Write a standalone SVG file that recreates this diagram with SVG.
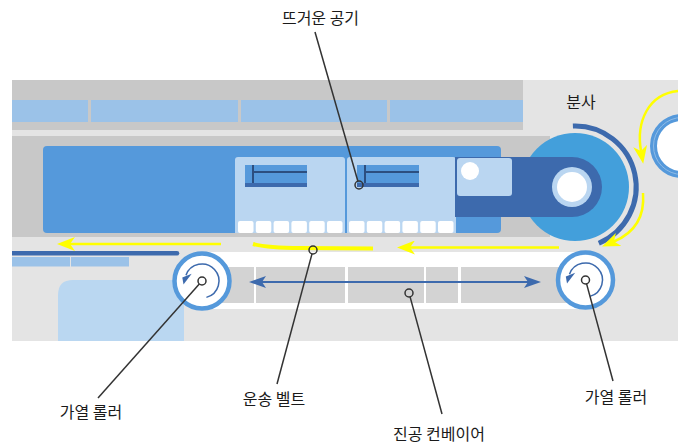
<svg xmlns="http://www.w3.org/2000/svg" width="685" height="446" viewBox="0 0 685 446">
  <style>
    .lbl { font-family: "Noto Sans CJK KR", "Noto Sans", sans-serif; font-size: 16px; fill: #1a1a1a; text-anchor: middle; }
    .flow { fill: none; stroke: #ffff00; stroke-width: 2.5; }
    .ptr { fill: none; stroke: #333333; stroke-width: 1.5; }
    .tile { fill: #ffffff; }
    .panel { fill: #bad6f1; }
    .belt-tile { fill: #d3d3d3; }
    .ring { fill: #ffffff; stroke: #5599db; stroke-width: 4.5; }
    .spin { fill: none; stroke: #3d6aad; stroke-width: 1.5; }
  </style>
  <defs>
    <marker id="yhead" viewBox="0 0 18 14" refX="5" refY="7" markerWidth="18" markerHeight="14" markerUnits="userSpaceOnUse" orient="auto">
      <path d="M0 0 L18 7 L0 14 L5 7 Z" fill="#ffff00"/>
    </marker>
    <marker id="bhead" viewBox="0 0 17 12" refX="4" refY="6" markerWidth="17" markerHeight="12" markerUnits="userSpaceOnUse" orient="auto-start-reverse">
      <path d="M0 0 L17 6 L0 12 L4 6 Z" fill="#3d6aad"/>
    </marker>
    <clipPath id="frame">
      <rect x="12" y="80" width="666" height="261"/>
    </clipPath>
    <!-- heated roller body, drawn around its own centre -->
    <g id="roller-shape">
      <circle class="ring" r="27.5"/>
      <path class="spin" d="M4.4 16.4 A17 17 0 1 0 -16 -5.8"/>
      <path d="M-19.7 -3.5 L-10.3 -7.3 L-18.5 3.5 Z" fill="#3d6aad"/>
    </g>
  </defs>

  <rect width="685" height="446" fill="#ffffff"/>

  <!-- machine housing -->
  <g id="housing">
    <rect x="12" y="80" width="666" height="261" fill="#e4e4e4"/>
    <rect x="12" y="80" width="511" height="50" fill="#c8c8c8"/>
    <rect x="12" y="100" width="76" height="22" fill="#9bc2e8"/>
    <rect x="91" y="100" width="147" height="22" fill="#9bc2e8"/>
    <rect x="241" y="100" width="146" height="22" fill="#9bc2e8"/>
    <rect x="390" y="100" width="133" height="22" fill="#9bc2e8"/>
    <rect x="12" y="136" width="538" height="101" fill="#c8c8c8"/>
    <path d="M12 251 H177 A2.25 2.25 0 0 1 177 255.5 H12 Z" fill="#3d6aad"/>
    <rect x="12" y="257" width="58" height="9.5" fill="#9bc2e8"/>
    <rect x="71" y="257" width="58" height="9.5" fill="#9bc2e8"/>
    <path d="M58 341 V295 Q58 280 73 280 H184 V341 Z" fill="#bad7f1"/>
  </g>

  <!-- hot-air chamber -->
  <g id="chamber">
    <rect x="43" y="146" width="458" height="87" rx="4" fill="#5599db"/>
    <path class="panel" d="M235 233 V160 Q235 157 238 157 H342 Q345 157 345 160 V233 Z"/>
    <path class="panel" d="M347 233 V160 Q347 157 350 157 H453 Q456 157 456 160 V233 Z"/>
    <rect x="245" y="165" width="62" height="22" fill="#5599db"/>
    <rect x="245" y="183" width="62" height="4" fill="#3d6aad"/>
    <path d="M253 165 V183 M253 172 H307" stroke="#2c4f80" stroke-width="2" fill="none"/>
    <rect x="357" y="165" width="62" height="22" fill="#5599db"/>
    <rect x="357" y="183" width="62" height="4" fill="#3d6aad"/>
    <path d="M365 165 V183 M365 172 H419" stroke="#2c4f80" stroke-width="2" fill="none"/>
    <g>
      <rect class="tile" x="238" y="221" width="15.5" height="12" rx="2"/>
      <rect class="tile" x="255.8" y="221" width="15.5" height="12" rx="2"/>
      <rect class="tile" x="273.6" y="221" width="15.5" height="12" rx="2"/>
      <rect class="tile" x="291.4" y="221" width="15.5" height="12" rx="2"/>
      <rect class="tile" x="309.2" y="221" width="15.5" height="12" rx="2"/>
      <rect class="tile" x="327" y="221" width="15.5" height="12" rx="2"/>
      <rect class="tile" x="349" y="221" width="15.5" height="12" rx="2"/>
      <rect class="tile" x="366.8" y="221" width="15.5" height="12" rx="2"/>
      <rect class="tile" x="384.6" y="221" width="15.5" height="12" rx="2"/>
      <rect class="tile" x="402.4" y="221" width="15.5" height="12" rx="2"/>
      <rect class="tile" x="420.2" y="221" width="15.5" height="12" rx="2"/>
      <rect class="tile" x="438" y="221" width="15.5" height="12" rx="2"/>
    </g>
  </g>

  <!-- spray nozzle disk and arm -->
  <g id="nozzle">
    <circle cx="575" cy="187" r="54" fill="#439fdb"/>
    <path d="M455 157 H572 A30 30 0 0 1 572 217 H455 Z" fill="#3d6aad"/>
    <rect x="457" y="158" width="55" height="38" rx="3" fill="#bad6f1"/>
    <circle cx="470" cy="171" r="9" fill="#ffffff"/>
    <circle cx="572" cy="187" r="20" fill="#bad6f1"/>
    <circle cx="572" cy="187" r="15" fill="#ffffff"/>
    <path d="M572.9 126 A61 61 0 0 1 598.8 243.2" fill="none" stroke="#3d6aad" stroke-width="5"/>
  </g>

  <!-- feed roller at the edge -->
  <g id="feed-roller" clip-path="url(#frame)">
    <circle cx="682" cy="146" r="28.5" fill="#ffffff" stroke="#5599db" stroke-width="7"/>
    <circle cx="682" cy="146" r="28.5" fill="none" stroke="#8ebbe6" stroke-width="1"/>
  </g>

  <!-- vacuum conveyor -->
  <g id="conveyor">
    <rect x="195" y="252" width="390" height="57" fill="#ffffff"/>
    <rect class="belt-tile" x="215" y="267" width="39" height="36"/>
    <rect class="belt-tile" x="256" y="267" width="89" height="36"/>
    <rect class="belt-tile" x="348" y="267" width="76" height="36"/>
    <rect class="belt-tile" x="426" y="267" width="32" height="36"/>
    <rect class="belt-tile" x="461" y="267" width="110" height="36"/>
  </g>

  <g id="roller-left" transform="translate(202 281)">
    <use href="#roller-shape"/>
  </g>
  <g id="roller-right" transform="translate(585.5 280)">
    <use href="#roller-shape"/>
  </g>

  <!-- flows and connectors -->
  <g id="connectors">
    <line x1="262" y1="282" x2="528" y2="282" stroke="#3d6aad" stroke-width="2" marker-start="url(#bhead)" marker-end="url(#bhead)"/>
    <path class="flow" d="M221 244 H70" marker-end="url(#yhead)"/>
    <path class="flow" d="M559 247.5 H410" marker-end="url(#yhead)"/>
    <path d="M253 244 Q268 248 300 248 L373 248.5" fill="none" stroke="#ffff00" stroke-width="4"/>
    <path class="flow" d="M678 91 C648 94 636 122 641 151" marker-end="url(#yhead)"/>
    <path class="flow" d="M643 193 C645 218 634 233 614 241.5" marker-end="url(#yhead)"/>

    <line class="ptr" x1="315" y1="32" x2="357.9" y2="181.2"/>
    <circle class="ptr" cx="359" cy="185" r="4"/>
    <line class="ptr" x1="98" y1="398" x2="199.3" y2="284"/>
    <circle class="ptr" cx="202" cy="281" r="4"/>
    <line class="ptr" x1="277" y1="384" x2="312" y2="253.9"/>
    <circle class="ptr" cx="313" cy="250" r="4"/>
    <line class="ptr" x1="442" y1="414" x2="410.1" y2="296.9"/>
    <circle class="ptr" cx="409" cy="293" r="4"/>
    <line class="ptr" x1="613" y1="381" x2="586.6" y2="283.9"/>
    <circle class="ptr" cx="585.5" cy="280" r="4"/>
  </g>

  <g id="labels">
    <text class="lbl" x="320.5" y="24">뜨거운 공기</text>
    <text class="lbl" x="581" y="108">분사</text>
    <text class="lbl" x="91" y="418">가열 롤러</text>
    <text class="lbl" x="274" y="405">운송 벨트</text>
    <text class="lbl" x="439" y="440">진공 컨베이어</text>
    <text class="lbl" x="616" y="403">가열 롤러</text>
  </g>
</svg>
